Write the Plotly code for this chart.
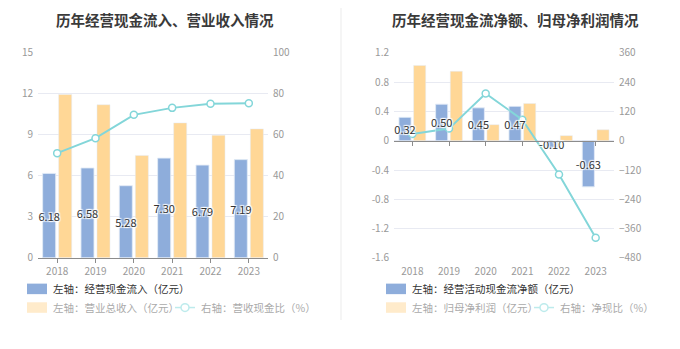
import plotly.graph_objects as go

# ---- data ----
years = ["2018", "2019", "2020", "2021", "2022", "2023"]

# left panel: operating cash inflow vs. total revenue (100M CNY), ratio (%)
cash_inflow = [6.18, 6.58, 5.28, 7.30, 6.79, 7.19]
total_revenue = [11.96, 11.21, 7.50, 9.88, 8.97, 9.44]
inflow_ratio = [51.1, 58.4, 69.8, 73.2, 75.2, 75.5]

# right panel: net operating cash flow vs. net profit (100M CNY), ratio (%)
net_cash_flow = [0.32, 0.50, 0.45, 0.47, -0.10, -0.63]
net_profit = [1.03, 0.95, 0.22, 0.51, 0.07, 0.15]
net_ratio = [27.6, 49.8, 193.8, 86.5, -138.6, -397.7]

left_ticks = [0, 3, 6, 9, 12, 15]
left_ticks_r = [0, 20, 40, 60, 80, 100]
right_ticks = [-1.6, -1.2, -0.8, -0.4, 0, 0.4, 0.8, 1.2]
right_ticks_r = [-480, -360, -240, -120, 0, 120, 240, 360]

# ---- styling ----
W, H = 680, 349
BLUE = "#8EADDB"
ORANGE = "#FFD796"
CYAN = "#83D6D9"
GRID = "#E8EAF2"
TICK = "#999999"
AXIS = "#8C8C8C"
FONT = "Noto Sans CJK SC"

def px(x):
    return x / W

def py(y):
    return 1 - y / H

y_dom = [py(261), py(47)]
xl_dom = [px(38), px(268)]
xr_dom = [px(394), px(614)]

label_font = dict(family=FONT, size=11, color="#333333",
                  shadow="1px 1px 1px #fff, -1px -1px 1px #fff, 1px -1px 1px #fff, -1px 1px 1px #fff")

# bar width and side-by-side offsets (category units)
BW_L, GAP_L = 0.34, 0.078
BW_R, GAP_R = 0.33, 0.07

fig = go.Figure()

def add_panel(xa, ya, ya_line, ya_label, blue_vals, orange_vals, ratio_vals, bw, gap):
    fig.add_trace(go.Bar(x=years, y=orange_vals, xaxis=xa, yaxis=ya, marker_color=ORANGE,
                         width=bw, offset=gap / 2, showlegend=False))
    fig.add_trace(go.Bar(x=years, y=blue_vals, xaxis=xa, yaxis=ya, marker_color=BLUE,
                         width=bw, offset=-gap / 2 - bw, showlegend=False))
    fig.add_trace(go.Scatter(x=years, y=ratio_vals, xaxis=xa, yaxis=ya_line, mode="lines+markers",
                             line=dict(color=CYAN, width=2),
                             marker=dict(size=7, color="white", line=dict(color=CYAN, width=1.5)),
                             showlegend=False))
    # value labels of the cash bars, on a top layer above the ratio line
    fig.add_trace(go.Bar(x=years, y=blue_vals, xaxis=xa, yaxis=ya_label,
                         marker_color="rgba(0,0,0,0)", width=bw, offset=-gap / 2 - bw,
                         text=[f"{v:.2f}" for v in blue_vals], textposition="inside",
                         insidetextanchor="middle", constraintext="none", textangle=0,
                         textfont=label_font, hoverinfo="skip", showlegend=False))

add_panel("x", "y", "y2", "y5", cash_inflow, total_revenue, inflow_ratio, BW_L, GAP_L)
add_panel("x2", "y3", "y4", "y6", net_cash_flow, net_profit, net_ratio, BW_R, GAP_R)

# zero-line category axis carrying the tick marks
fig.add_trace(go.Scatter(x=years, y=[0] * 6, xaxis="x3", yaxis="y3", mode="markers",
                         marker=dict(opacity=0), hoverinfo="skip", showlegend=False))

tickfont = dict(family=FONT, size=10, color=TICK)

fig.update_layout(
    width=W, height=H,
    margin=dict(l=0, r=0, t=0, b=0),
    paper_bgcolor="white", plot_bgcolor="white",
    barmode="overlay",
    font=dict(family=FONT),
    xaxis=dict(domain=xl_dom, anchor="y", type="category", showline=True, linecolor=AXIS,
               linewidth=1, ticks="outside", ticklen=4, tickcolor=AXIS, tickfont=tickfont,
               showgrid=False, range=[-0.5, 5.5]),
    yaxis=dict(domain=y_dom, range=[0, 15], tickvals=left_ticks, showgrid=True, gridcolor=GRID,
               zeroline=False, showline=False, tickfont=tickfont, ticklabelstandoff=4),
    yaxis2=dict(overlaying="y", side="right", anchor="x", range=[0, 100], tickvals=left_ticks_r,
                showgrid=False, zeroline=False, tickfont=tickfont, ticklabelstandoff=4),
    yaxis5=dict(overlaying="y", anchor="x", range=[0, 15], visible=False),
    xaxis2=dict(domain=xr_dom, anchor="y3", type="category", showline=False,
                ticks="outside", ticklen=4, tickcolor="rgba(0,0,0,0)", tickfont=tickfont,
                showgrid=False, range=[-0.5, 5.5]),
    xaxis3=dict(overlaying="x2", anchor="free", position=py(261) + (py(47) - py(261)) * 1.6 / 2.8,
                type="category", showline=True, linecolor=AXIS, linewidth=1, range=[-0.5, 5.5],
                ticks="outside", ticklen=4, tickcolor=AXIS, showticklabels=False, showgrid=False),
    yaxis3=dict(domain=y_dom, anchor="x2", range=[-1.6, 1.2], tickvals=right_ticks,
                ticktext=["-1.6", "-1.2", "-0.8", "-0.4", "0", "0.4", "0.8", "1.2"],
                showgrid=True, gridcolor=GRID, zeroline=False, tickfont=tickfont,
                ticklabelstandoff=4),
    yaxis4=dict(overlaying="y3", side="right", anchor="x2", range=[-480, 360],
                tickvals=right_ticks_r, showgrid=False, zeroline=False, tickfont=tickfont,
                ticklabelstandoff=4),
    yaxis6=dict(overlaying="y3", anchor="x2", range=[-1.6, 1.2], visible=False),
)

annotations = []
shapes = []

# panel titles
for text, cx in [("历年经营现金流入、营业收入情况", 165), ("历年经营现金流净额、归母净利润情况", 515)]:
    annotations.append(dict(text=f"<b>{text}</b>", x=px(cx), y=py(12), xref="paper", yref="paper",
                            xanchor="center", yanchor="middle", showarrow=False,
                            font=dict(family=FONT, size=14.5, color="#3A3A3A")))

# divider between panels
shapes.append(dict(type="line", xref="paper", yref="paper", x0=px(341), x1=px(341),
                   y0=py(0), y1=py(326), line=dict(color="#F2F2F2", width=1.5)))

# legend blocks
def legend_block(x0, line_x, bar1, bar2, line_text):
    r1, r2 = 293.5, 313
    shapes.append(dict(type="rect", xref="paper", yref="paper", x0=px(x0), x1=px(x0 + 20),
                       y0=py(r1 + 5.5), y1=py(r1 - 5.5), fillcolor=BLUE, line=dict(width=0)))
    shapes.append(dict(type="rect", xref="paper", yref="paper", x0=px(x0), x1=px(x0 + 20),
                       y0=py(r2 + 5.5), y1=py(r2 - 5.5), fillcolor="#FFEBCB", line=dict(width=0)))
    annotations.append(dict(text=bar1, x=px(x0 + 24), y=py(r1), xref="paper", yref="paper",
                            xanchor="left", yanchor="middle", showarrow=False,
                            font=dict(family=FONT, size=10.5, color="#333333")))
    annotations.append(dict(text=bar2, x=px(x0 + 24), y=py(r2), xref="paper", yref="paper",
                            xanchor="left", yanchor="middle", showarrow=False,
                            font=dict(family=FONT, size=10.5, color="#AAAAAA")))
    shapes.append(dict(type="line", xref="paper", yref="paper", x0=px(line_x), x1=px(line_x + 20),
                       y0=py(r2), y1=py(r2), line=dict(color="#BDEBEC", width=1.5)))
    shapes.append(dict(type="circle", xref="paper", yref="paper",
                       x0=px(line_x + 6), x1=px(line_x + 14), y0=py(r2 + 4), y1=py(r2 - 4),
                       fillcolor="white", line=dict(color="#BDEBEC", width=1.5)))
    annotations.append(dict(text=line_text, x=px(line_x + 24), y=py(r2), xref="paper",
                            yref="paper", xanchor="left", yanchor="middle", showarrow=False,
                            font=dict(family=FONT, size=10.5, color="#AAAAAA")))

legend_block(27, 175, "左轴：经营现金流入（亿元）", "左轴：营业总收入（亿元）", "右轴：营收现金比（%）")
legend_block(386, 534, "左轴：经营活动现金流净额（亿元）", "左轴：归母净利润（亿元）", "右轴：净现比（%）")

fig.update_layout(annotations=annotations, shapes=shapes)

fig.write_html("out.html")
